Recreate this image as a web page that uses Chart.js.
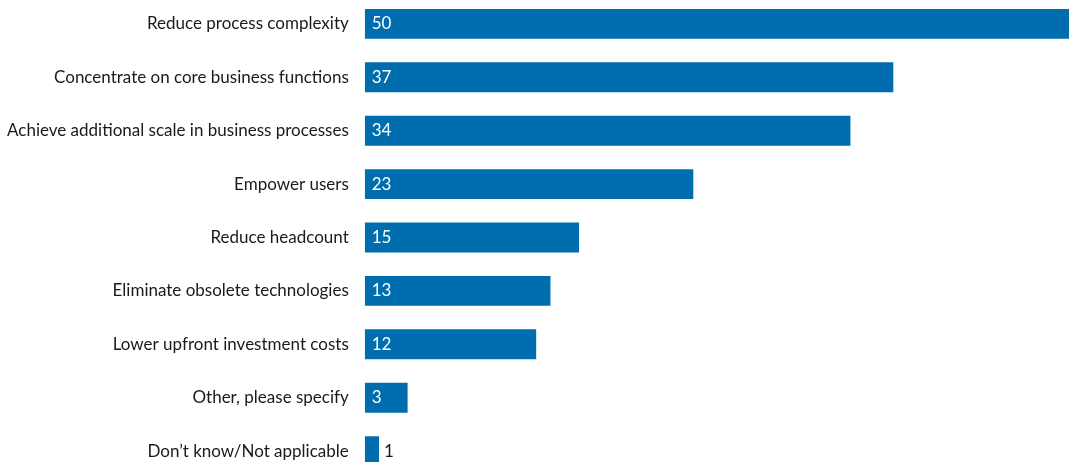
<!DOCTYPE html>
<html lang="en">
<head>
<meta charset="UTF-8">
<title>Reasons</title>
<style>
  html, body { margin: 0; padding: 0; background: #fff; overflow: hidden; }
  #chart { position: absolute; left: -1px; top: -21px; }
</style>
</head>
<body>
<canvas id="chart" width="1070" height="517"></canvas>
<script src="https://cdn.jsdelivr.net/npm/chart.js@4.4.0/dist/chart.umd.min.js"></script>
<script>
const categories = [
  "Reduce process complexity",
  "Concentrate on core business functions",
  "Achieve additional scale in business processes",
  "Empower users",
  "Reduce headcount",
  "Eliminate obsolete technologies",
  "Lower upfront investment costs",
  "Other, please specify",
  "Don\u2019t know/Not applicable"
];
const values = [50, 37, 34, 23, 15, 13, 12, 3, 1];

const FONT = "Lato, sans-serif";

// draw the numbers inside the bars (or just after them if the bar is too short)
const valueLabels = {
  id: "valueLabels",
  afterDatasetsDraw(chart) {
    const ctx = chart.ctx;
    const meta = chart.getDatasetMeta(0);
    ctx.save();
    ctx.font = "17px " + FONT;
    ctx.textBaseline = "middle";
    ctx.textAlign = "left";
    meta.data.forEach((bar, i) => {
      const w = bar.x - bar.base;
      if (w > 30) {
        ctx.fillStyle = "#ffffff";
        ctx.fillText(values[i], bar.base + 7, bar.y);
      } else {
        ctx.fillStyle = "#1a1a1a";
        ctx.fillText(values[i], bar.x + 5, bar.y);
      }
    });
    ctx.restore();
  }
};

new Chart("chart", {
  type: "bar",
  data: {
    labels: categories,
    datasets: [{
      data: values,
      backgroundColor: "#006eae",
      borderWidth: 0,
      categoryPercentage: 1,
      barPercentage: 0.56
    }]
  },
  options: {
    indexAxis: "y",
    responsive: false,
    animation: false,
    layout: { padding: 0 },
    plugins: {
      legend: { display: false },
      tooltip: { enabled: false }
    },
    scales: {
      x: {
        display: false,
        min: 0,
        max: 49.3
      },
      y: {
        grid: { display: false },
        border: { display: false },
        ticks: {
          color: "#1a1a1a",
          padding: 8,
          font: { family: FONT, size: 17 }
        }
      }
    }
  },
  plugins: [valueLabels]
});
</script>
</body>
</html>
